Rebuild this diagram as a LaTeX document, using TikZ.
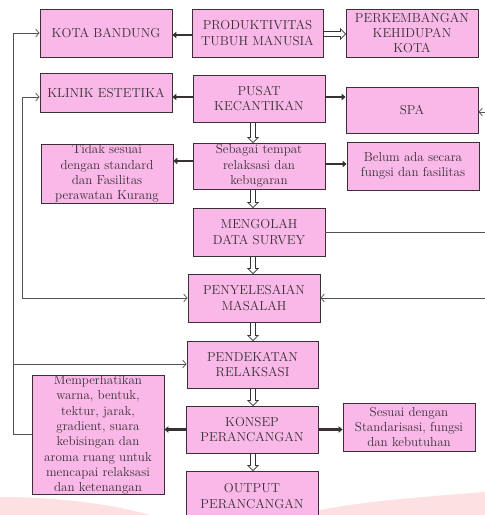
\documentclass[tikz,border=0pt]{standalone}
\usepackage{fontspec}
\usetikzlibrary{arrows.meta,calc}
\definecolor{boxpink}{RGB}{250,184,232}
\definecolor{ink}{RGB}{55,48,52}
\definecolor{bgpink}{RGB}{252,224,226}
\tikzset{
 bx/.style={draw=ink, line width=0.9pt, fill=boxpink, inner sep=0pt, align=center,
   font=\fontsize{13}{15.3}\selectfont, text=ink, minimum width=132pt, minimum height=48pt},
 fb/.style={draw=ink!85, line width=0.7pt, arrows={-Straight Barb[length=3.5pt,width=8pt]}},
 fbb/.style={draw=ink!85, line width=0.7pt, arrows={Straight Barb[length=3.5pt,width=8pt]-Straight Barb[length=3.5pt,width=8pt]}},
 fbn/.style={draw=ink!85, line width=0.7pt},
 thk/.style={draw=ink, line width=2.6pt, -{Triangle[length=4pt,width=6.5pt]}},
 hollowdown/.style={draw=ink, fill=white, line width=0.7pt, to path={
   let \p1=(\tikztostart), \p2=(\tikztotarget) in
   (\x1-2.5pt,\y1) -- (\x1-2.5pt,\y2+5pt) -- (\x1-5pt,\y2+5pt) -- (\x1,\y2)
   -- (\x1+5pt,\y2+5pt) -- (\x1+2.5pt,\y2+5pt) -- (\x1+2.5pt,\y1) -- cycle}},
 hollowright/.style={draw=ink, fill=white, line width=0.7pt, to path={
   let \p1=(\tikztostart), \p2=(\tikztotarget) in
   (\x1,\y1+2.5pt) -- (\x2-5pt,\y1+2.5pt) -- (\x2-5pt,\y1+5pt) -- (\x2,\y1)
   -- (\x2-5pt,\y1-5pt) -- (\x2-5pt,\y1-2.5pt) -- (\x1,\y1-2.5pt) -- cycle}},
}
\begin{document}
\begin{tikzpicture}[x=1pt,y=-1pt]
\useasboundingbox (0,0) rectangle (485,515);
\clip (0,0) rectangle (485,515);
\fill[white] (0,0) rectangle (485,515);
% background swooshes
\fill[bgpink] (0,497) .. controls (60,497) and (115,505) .. (150,515) -- (0,515) -- cycle;
\fill[bgpink] (300,515) .. controls (340,503) and (420,497) .. (485,492) -- (485,515) -- cycle;

% boxes
\node[bx] (kota) at (106,33) {KOTA BANDUNG};
\node[bx, minimum width=131pt] (prod) at (257.5,33) {PRODUKTIVITAS\\TUBUH MANUSIA};
\node[bx] (perk) at (412,33) {PERKEMBANGAN\\KEHIDUPAN\\KOTA};
\node[bx, minimum height=39pt] (klinik) at (106,92.5) {KLINIK ESTETIKA};
\node[bx, minimum height=47pt] (pusat) at (259,98.5) {PUSAT\\KECANTIKAN};
\node[bx, minimum height=46pt] (spa) at (412,110) {SPA};
\node[bx, minimum height=59pt] (tidak) at (107,173.5) {Tidak sesuai\\dengan standard\\dan Fasilitas\\perawatan Kurang};
\node[bx, minimum height=46pt] (seb) at (259,166) {Sebagai tempat\\relaksasi dan\\kebugaran};
\node[bx] (belum) at (413,166) {Belum ada secara\\fungsi dan fasilitas};
\node[bx] (meng) at (259,232) {MENGOLAH\\DATA SURVEY};
\node[bx] (pen) at (254,298) {PENYELESAIAN\\MASALAH};
\node[bx, minimum width=131pt, minimum height=47pt] (pend) at (252.5,364.5) {PENDEKATAN\\RELAKSASI};
\node[bx, minimum height=118pt] (mem) at (98,435) {Memperhatikan\\warna, bentuk,\\tektur, jarak,\\gradient, suara\\kebisingan dan\\aroma ruang untuk\\mencapai relaksasi\\dan ketenangan};
\node[bx, minimum height=47pt] (konsep) at (252,429.5) {KONSEP\\PERANCANGAN};
\node[bx] (sesuai) at (409,427) {Sesuai dengan\\Standarisasi, fungsi\\dan kebutuhan};
\node[bx, minimum height=50pt] (output) at (252,496) {OUTPUT\\PERANCANGAN};

% coordinates for feedback lines
\coordinate (oL) at (13,434);
\coordinate (oT) at (13,33);
\coordinate (oM) at (13,364);
\coordinate (iT) at (22,97);
\coordinate (iB) at (22,298);
\coordinate (rSpa) at (485,112);
\coordinate (rMeng) at (485,232);
\coordinate (rPen) at (485,298);
\coordinate (ax) at (253,0);

% feedback lines
\draw[fb] (mem.west|-oL) -- (oL) -- (oT) -- (kota.west);
\draw[fb] (oM) -- (pend.west|-oM);
\draw[fbb] (klinik.west|-iT) -- (iT) -- (iB) -- (pen.west|-iB);
\draw[fb] (rSpa) -- (spa.east|-rSpa);
\draw[fbn] (meng.east|-rMeng) -- (rMeng);
\draw[fb] (rPen) -- (pen.east|-rPen);

% thick arrows
\draw[thk] ([yshift=-2pt]prod.west) -- ([yshift=-2pt]kota.east);
\draw[thk] (pusat.west|-iT) -- (klinik.east|-iT);
\draw[thk] ([yshift=1.5pt]pusat.east) -- ([yshift=1.5pt]pusat.east-|spa.west);
\draw[thk] ([yshift=5pt]seb.west) -- ([yshift=5pt]seb.west-|tidak.east);
\draw[thk] ([yshift=2pt]seb.east) -- ([yshift=2pt]seb.east-|belum.west);
\draw[thk] (konsep.west) -- (konsep.west-|mem.east);
\draw[thk] (konsep.east) -- (konsep.east-|sesuai.west);

% hollow arrows
\draw[hollowright] ([yshift=-1pt]prod.east) to ([yshift=-1pt]perk.west);
\draw[hollowdown] (pusat.south-|ax) to (seb.north-|ax);
\draw[hollowdown] (seb.south-|ax) to (meng.north-|ax);
\draw[hollowdown] (meng.south-|ax) to (pen.north-|ax);
\draw[hollowdown] (pen.south-|ax) to (pend.north-|ax);
\draw[hollowdown] (pend.south-|ax) to (konsep.north-|ax);
\draw[hollowdown] (konsep.south-|ax) to (output.north-|ax);
\end{tikzpicture}
\end{document}
